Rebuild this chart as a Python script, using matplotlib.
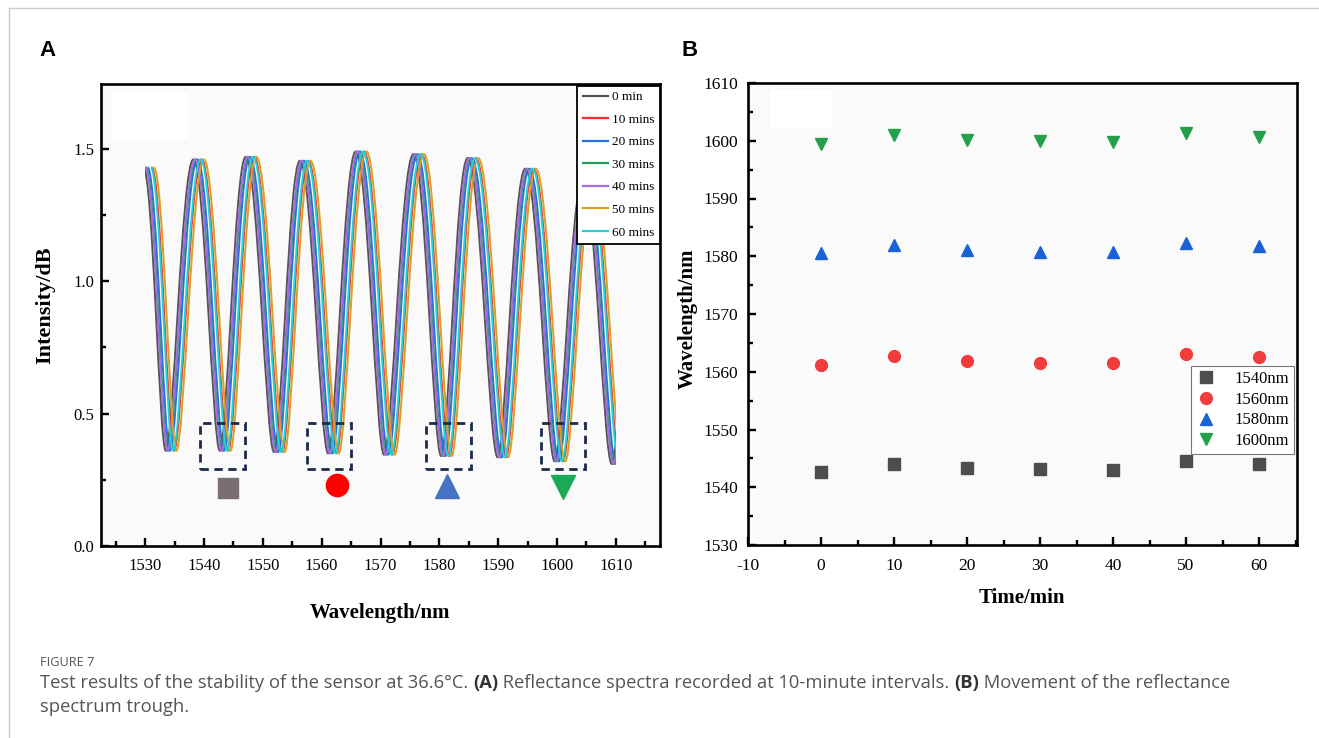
import matplotlib
matplotlib.use("Agg")
import matplotlib.pyplot as plt
from matplotlib.path import Path
from matplotlib.patches import PathPatch, Rectangle
from matplotlib.lines import Line2D
from matplotlib.ticker import MultipleLocator

plt.rcParams["axes.unicode_minus"] = False

# ---- panel A: extrema of the 0 min spectrum
peak_nm = [1529.7, 1538.2, 1547.1, 1556.3, 1565.8, 1575.6, 1584.8, 1594.6, 1604.4, 1614.0]
peak_db = [1.43, 1.46, 1.47, 1.455, 1.49, 1.48, 1.465, 1.425, 1.385, 1.35]
trough_nm = [1533.5, 1542.7, 1551.9, 1561.1, 1570.6, 1580.3, 1589.9, 1599.6, 1609.3]
trough_db = [0.36, 0.36, 0.355, 0.35, 0.345, 0.34, 0.335, 0.32, 0.31]

# red-shift of every later spectrum against the 0 min one
curve_labels = ["0 min", "10 mins", "20 mins", "30 mins", "40 mins", "50 mins", "60 mins"]
shift_nm = [0.0, 1.4, 0.7, 0.4, 0.3, 1.8, 1.25]
curve_colors = ["#555555", "#ff2a2a", "#2a6fdb", "#1e9e5a", "#a46de0", "#d9a020", "#22d3d3"]

# ---- panel B: trough wavelength vs time
times = [0, 10, 20, 30, 40, 50, 60]
dip_1540 = [1542.7, 1544.0, 1543.4, 1543.1, 1543.0, 1544.5, 1544.0]
dip_1560 = [1561.2, 1562.7, 1561.9, 1561.6, 1561.6, 1563.0, 1562.5]
dip_1580 = [1580.5, 1581.9, 1581.1, 1580.8, 1580.7, 1582.3, 1581.7]
dip_1600 = [1599.5, 1601.0, 1600.2, 1599.9, 1599.8, 1601.3, 1600.6]
dip_labels = ["1540nm", "1560nm", "1580nm", "1600nm"]

SERIF = "Liberation Serif"
W, H = 1319, 738


def spectrum_path(xs, ys, k_peak=0.42, k_trough=0.28):
    # smooth curve through the extrema, flat tangent at every peak and trough
    # (shorter handles on the trough side give the narrower dips)
    verts = [(xs[0], ys[0])]
    codes = [Path.MOVETO]
    for i in range(len(xs) - 1):
        dx = xs[i + 1] - xs[i]
        k0 = k_peak if ys[i] > ys[i + 1] else k_trough
        k1 = k_trough if ys[i] > ys[i + 1] else k_peak
        verts += [(xs[i] + k0 * dx, ys[i]), (xs[i + 1] - k1 * dx, ys[i + 1]), (xs[i + 1], ys[i + 1])]
        codes += [Path.CURVE4] * 3
    return Path(verts, codes)


def style_axes(ax):
    ax.set_facecolor("#fafafa")
    for s in ax.spines.values():
        s.set_linewidth(1.9)
    ax.tick_params(which="both", direction="in", width=1.7, top=False, right=False)
    ax.tick_params(which="major", length=6)
    ax.tick_params(which="minor", length=3.5)
    for lab in ax.get_xticklabels() + ax.get_yticklabels():
        lab.set_fontfamily(SERIF)


fig = plt.figure(figsize=(W / 100, H / 100), dpi=100)

# page frame lines
fig.add_artist(Line2D([9 / W, 1], [1 - 8 / H, 1 - 8 / H], color="#cccccc", lw=1))
fig.add_artist(Line2D([9 / W, 9 / W], [0, 1 - 8 / H], color="#cccccc", lw=1))

# ================= panel A
axA = fig.add_axes([101 / W, 1 - 546 / H, (660 - 101) / W, (546 - 84) / H])
axA.set_xlim(1522.5, 1617.5)
axA.set_ylim(0, 1.745)

xs0, ys0 = [], []
for i in range(len(peak_nm)):
    xs0.append(peak_nm[i]); ys0.append(peak_db[i])
    if i < len(trough_nm):
        xs0.append(trough_nm[i]); ys0.append(trough_db[i])

clip = Rectangle((1530, -1), 80, 4, transform=axA.transData)
handles = []
for lab, sh, col in zip(curve_labels, shift_nm, curve_colors):
    path = spectrum_path([x + sh for x in xs0], ys0)
    p = PathPatch(path, facecolor="none", edgecolor=col, lw=1.4, zorder=2)
    axA.add_patch(p)
    p.set_clip_path(clip)
    handles.append(Line2D([], [], color=col, lw=1.6))

# dashed boxes around the tracked troughs and their symbols
box_x = [1539.4, 1557.5, 1577.8, 1597.3]
for bx in box_x:
    axA.add_patch(Rectangle((bx, 0.29), 7.5, 0.174, fill=False, ls=(0, (3, 2)),
                            lw=2, edgecolor="#1c2b4a", zorder=3))
axA.plot([1544.0], [0.219], "s", ms=15, color="#787070", zorder=3)
axA.plot([1562.6], [0.230], "o", ms=16, color="#ff0000", zorder=3)
axA.plot([1581.3], [0.228], "^", ms=17, color="#4472c4", zorder=3)
axA.plot([1601.0], [0.222], "v", ms=17, color="#1aaa55", zorder=3)

axA.add_patch(Rectangle((0.02, 0.88), 0.135, 0.1, transform=axA.transAxes,
                        facecolor="white", edgecolor="none", zorder=1))

axA.xaxis.set_major_locator(MultipleLocator(10))
axA.xaxis.set_minor_locator(MultipleLocator(5))
axA.yaxis.set_major_locator(MultipleLocator(0.5))
axA.yaxis.set_minor_locator(MultipleLocator(0.25))
axA.set_xticks(range(1530, 1611, 10))
axA.set_yticks([0, 0.5, 1.0, 1.5])
axA.set_yticklabels(["0.0", "0.5", "1.0", "1.5"])
style_axes(axA)
axA.tick_params(axis="x", labelsize=12, pad=9)
axA.tick_params(axis="y", labelsize=12, pad=5)

legA = axA.legend(handles, curve_labels, loc="upper right", bbox_to_anchor=(1, 0.996),
                  borderaxespad=0, fancybox=False, edgecolor="black", framealpha=1,
                  prop=dict(family=SERIF, size=9.5), handlelength=1.9,
                  labelspacing=0.78, handletextpad=0.35, borderpad=0.4)
legA.get_frame().set_linewidth(1.3)

fig.text(380 / W, 1 - 613 / H, "Wavelength/nm", family=SERIF, weight="bold",
         size=15, ha="center", va="center")
fig.text(45 / W, 1 - 305 / H, "Intensity/dB", family=SERIF, weight="bold",
         size=16, ha="center", va="center", rotation=90)

# ================= panel B
axB = fig.add_axes([748 / W, 1 - 545 / H, (1297 - 748) / W, (545 - 83) / H])
axB.set_xlim(-10, 65.2)
axB.set_ylim(1530, 1610)
markers = ["s", "o", "^", "v"]
mcolors = ["#4d4d4d", "#f03c3c", "#1a62d6", "#22a04b"]
for vals, m, c, lab in zip([dip_1540, dip_1560, dip_1580, dip_1600], markers, mcolors, dip_labels):
    axB.plot(times, vals, ls="none", marker=m, ms=8.5, color=c, label=lab, zorder=3)

axB.add_patch(Rectangle((0.04, 0.905), 0.113, 0.08, transform=axB.transAxes,
                        facecolor="white", edgecolor="none", zorder=1))

axB.xaxis.set_major_locator(MultipleLocator(10))
axB.xaxis.set_minor_locator(MultipleLocator(5))
axB.yaxis.set_major_locator(MultipleLocator(10))
axB.yaxis.set_minor_locator(MultipleLocator(5))
style_axes(axB)
axB.tick_params(axis="both", labelsize=12.5)
axB.tick_params(axis="x", pad=9)
axB.tick_params(axis="y", pad=7)

legB = axB.legend(loc="upper right", bbox_to_anchor=(0.9945, 0.3874), borderaxespad=0,
                  fancybox=False, edgecolor="#777777", framealpha=1,
                  prop=dict(family=SERIF, size=12), handlelength=1.2,
                  labelspacing=0.28, handletextpad=1.1, borderpad=0.3)
legB.get_frame().set_linewidth(0.8)

fig.text(1022 / W, 1 - 598 / H, "Time/min", family=SERIF, weight="bold",
         size=15, ha="center", va="center")
fig.text(688 / W, 1 - 319 / H, "Wavelength/nm", family=SERIF, weight="bold",
         size=15, ha="center", va="center", rotation=90)

# panel letters
fig.text(48 / W, 1 - 50 / H, "A", family="Liberation Sans", weight="bold", size=16,
         ha="center", va="center")
fig.text(690 / W, 1 - 50 / H, "B", family="Liberation Sans", weight="bold", size=16,
         ha="center", va="center")

# ================= caption
CAP = "Open Sans"
fig.text(40 / W, 1 - 663 / H, "FIGURE 7", family=CAP, size=9.2, color="#555555",
         va="center")

renderer = fig.canvas.get_renderer()


def rich_line(x, y, pieces):
    for txt, bold in pieces:
        t = fig.text(x, y, txt, family=CAP, size=13.2, va="center",
                     weight="bold" if bold else "normal",
                     color="#333333" if bold else "#555555")
        x += t.get_window_extent(renderer=renderer).width / fig.bbox.width


rich_line(40 / W, 1 - 683 / H, [
    ("Test results of the stability of the sensor at 36.6\u00b0C. ", False),
    ("(A)", True),
    (" Reflectance spectra recorded at 10-minute intervals. ", False),
    ("(B)", True),
    (" Movement of the reflectance", False),
])
rich_line(40 / W, 1 - 707 / H, [("spectrum trough.", False)])

fig.savefig("out.png", dpi=100)
